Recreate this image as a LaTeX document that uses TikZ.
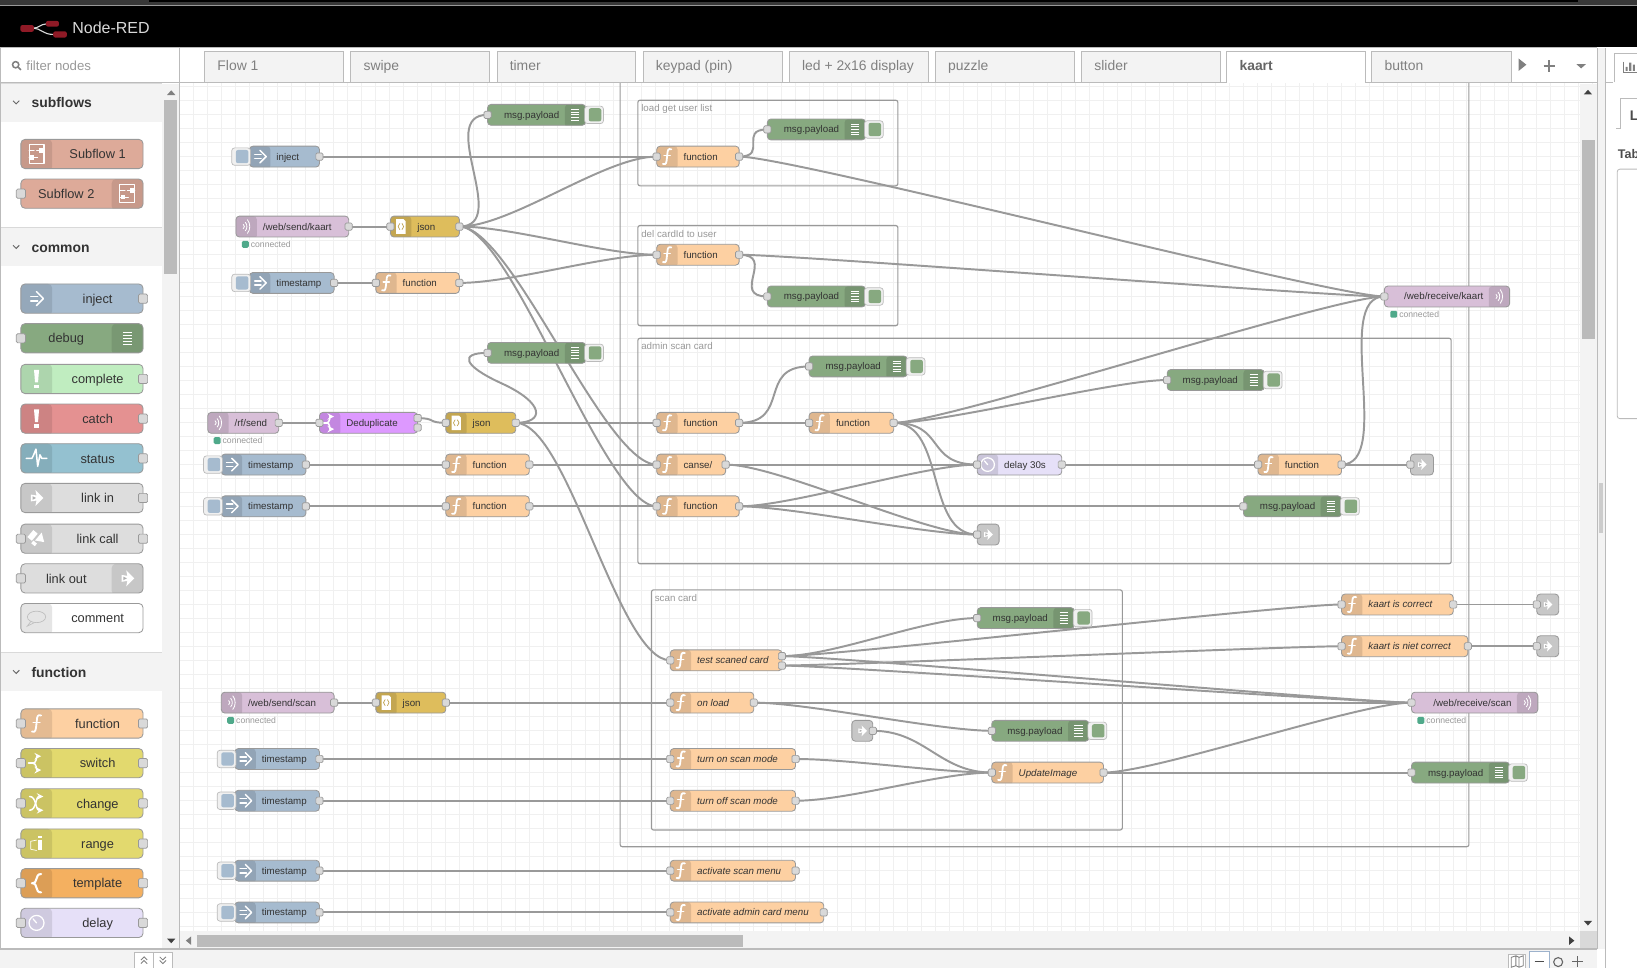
\documentclass[tikz,border=0pt]{standalone}
\usepackage{fontspec}
\setmainfont{Liberation Sans}
\pgfdeclarelayer{gridlayer}
\pgfdeclarelayer{wirelayer}
\pgfsetlayers{gridlayer,wirelayer,main}
\definecolor{injectcol}{HTML}{A6BBCF}
\definecolor{debugcol}{HTML}{87A980}
\definecolor{completecol}{HTML}{C0EDC0}
\definecolor{catchcol}{HTML}{E49191}
\definecolor{statuscol}{HTML}{94C1D0}
\definecolor{linkcol}{HTML}{DDDDDD}
\definecolor{subcol}{HTML}{DDAA99}
\definecolor{fncol}{HTML}{FDD0A2}
\definecolor{switchcol}{HTML}{E2D96E}
\definecolor{templatecol}{HTML}{F4B060}
\definecolor{delaycol}{HTML}{E6E0F8}
\definecolor{jsoncol}{HTML}{DEBD5C}
\definecolor{wscol}{HTML}{D8BFD8}
\definecolor{dedupcol}{HTML}{DD99FF}
\definecolor{edgecol}{HTML}{999999}
\definecolor{portcol}{HTML}{D9D9D9}
\definecolor{wirecol}{HTML}{999999}
\definecolor{gridcol}{HTML}{F0F0F0}
\definecolor{panelcol}{HTML}{F3F3F3}
\definecolor{linecol}{HTML}{BBBBBB}
\definecolor{thumbcol}{HTML}{BBBBBB}
\definecolor{okcol}{HTML}{4FA98A}
\definecolor{selcol}{HTML}{9DB2CC}
\definecolor{logocol}{HTML}{8F1A26}
\def\redunit{0.75pt}
\tikzset{
  x=0.75pt, y=-0.75pt,
  redbody/.style={draw=edgecol, line width=.6pt, rounded corners=2.5pt, minimum height=15pt, inner sep=0pt, outer sep=0pt},
  palbody/.style={redbody, minimum height=21pt, rounded corners=3pt, minimum width=87.75pt},
  redtext/.style={inner sep=0pt, text=black!80, text height=6.4pt, text depth=1.4pt, font=\fontsize{7}{8}\selectfont},
  paltext/.style={inner sep=0pt, text=black!80, text height=8.6pt, text depth=1.8pt, font=\fontsize{9.2}{11}\selectfont},
  port/.style={draw=edgecol, fill=portcol, line width=.5pt, rounded corners=1pt, minimum size=5.2pt, inner sep=0pt},
  palport/.style={port, minimum size=6.6pt},
  btnout/.style={draw=linecol, fill=gridcol, line width=.5pt, rounded corners=2pt, minimum width=13.5pt, minimum height=12.5pt, inner sep=0pt},
  btnin/.style={rounded corners=1.5pt, minimum width=9pt, minimum height=9.5pt, inner sep=0pt},
  wire/.style={draw=wirecol, line width=1.4pt},
  group/.style={draw=edgecol, line width=.8pt, rounded corners=1.5pt},
  grouptext/.style={inner sep=0pt, text=black!40, text height=6.4pt, text depth=1.4pt, font=\fontsize{7}{8}\selectfont},
  statdot/.style={fill=okcol, rounded corners=1pt, minimum size=5pt, inner sep=0pt},
  stattext/.style={inner sep=0pt, text=black!40, text height=4.6pt, text depth=0pt, font=\fontsize{6.2}{7}\selectfont},
  tabbox/.style={draw=linecol, fill=panelcol, line width=.6pt},
  tabtext/.style={inner sep=0pt, text=black!50, text height=9.4pt, text depth=2pt, font=\fontsize{10}{12}\selectfont},
  cattext/.style={inner sep=0pt, text=black!80, text height=9.4pt, text depth=2pt, font=\fontsize{10}{12}\selectfont\bfseries},
  icon/.style={draw=white, line width=1.1pt, line cap=round, line join=round},
  ufill/.style={fill=white, draw=none},
  pics/iconarrow/.style={code={
    \draw[icon] (-5,-2) -- (1,-2) (-5,2) -- (1,2);
    \draw[icon] (0,-6) -- (6,0) -- (0,6);
  }},
  pics/iconbars/.style={code={
    \foreach \yy in {-5,-2.5,0,2.5,5} \draw[icon,line width=.6pt,line cap=butt] (-4,\yy) -- (4,\yy);
  }},
  pics/iconf/.style={code={
    \draw[icon,line width=1.3pt] (4,-7) .. controls (1,-8) and (0.5,-6) .. (0.3,-3) -- (-0.5,4) .. controls (-0.8,7.5) and (-3,8) .. (-4,7);
    \draw[icon,line width=.9pt] (-3,-1) -- (3,-1);
  }},
  pics/iconfork/.style={code={
    \draw[icon] (-7,0) -- (-3,0);
    \draw[icon,-stealth] (-3,0) .. controls (0,0) and (0,-6) .. (4,-6);
    \draw[icon,-stealth] (-3,0) .. controls (0,0) and (0,6) .. (4,6);
  }},
  pics/iconchange/.style={code={
    \draw[icon,-stealth] (-6,-6) .. controls (0,-6) and (-1,6) .. (6,6);
    \draw[icon,-stealth] (-6,6) .. controls (0,6) and (-1,-6) .. (6,-6);
  }},
  pics/iconrange/.style={code={
    \fill[ufill] (1.5,-3) rectangle (5,6);
    \fill[ufill] (1.5,-7) rectangle (5,-5);
    \draw[icon,line width=.5pt] (-5,-2) -- (-5,5) -- (0,6) (-5,-2) -- (0,-3);
  }},
  pics/iconbrace/.style={code={
    \draw[icon,line width=1.5pt] (4,-8) .. controls (-2,-8) and (2,0) .. (-4,0) .. controls (2,0) and (-2,8) .. (4,8);
  }},
  pics/iconclock/.style={code={
    \draw[icon,line width=.9pt] (0,0) circle (6.5);
    \draw[icon,line width=.9pt] (0,0) -- (-3,-3.5);
  }},
  pics/iconjson/.style={code={
    \fill[ufill] (-4.5,-7) -- (2.5,-7) -- (4.5,-5) -- (4.5,7) -- (-4.5,7) -- cycle;
    \draw[draw=jsoncol!85!black,line width=.5pt] (-1,-3) .. controls (-2.6,-3) and (-1.2,0) .. (-2.6,0) .. controls (-1.2,0) and (-2.6,3) .. (-1,3);
    \draw[draw=jsoncol!85!black,line width=.5pt] (1,-3) .. controls (2.6,-3) and (1.2,0) .. (2.6,0) .. controls (1.2,0) and (2.6,3) .. (1,3);
  }},
  pics/iconws/.style={code={
    \draw[icon,line width=.6pt] (-3,-2) .. controls (-1.5,-1) and (-1.5,1) .. (-3,2);
    \draw[icon,line width=.6pt] (-1,-4) .. controls (1,-2) and (1,2) .. (-1,4);
    \draw[icon,line width=.6pt] (1,-6.5) .. controls (4,-3) and (4,3) .. (1,6.5);
  }},
  pics/iconbang/.style={code={
    \fill[ufill] (-2.2,-8) -- (2.2,-8) -- (1.3,3) -- (-1.3,3) -- cycle;
    \fill[ufill] (-1.8,5) rectangle (1.8,8);
  }},
  pics/iconpulse/.style={code={
    \draw[icon] (-9,0) -- (-4,0) -- (-2.5,-3) -- (-0.5,-8) -- (1,7) -- (3,-3) -- (4.5,0) -- (9,0);
  }},
  pics/iconlink/.style={code={
    \fill[ufill] (-1,-7) -- (6,0) -- (-1,7) -- (0,2.2) -- (-5,3) -- (-5,-3) -- (0,-2.2) -- cycle;
    \fill[fill=linkcol!80!black] (-3.5,-1.6) -- (-0.5,0) -- (-3.5,1.6) -- cycle;
  }},
  pics/iconcall/.style={code={
    \fill[ufill,rotate=-40] (-7,-4) rectangle (-2,4);
    \fill[ufill,rotate=-40] (0,-7) -- (7,-2) -- (0,2) -- cycle;
    \fill[ufill,rotate=-40] (-1,3) rectangle (3,6);
  }},
  pics/iconbubble/.style={code={
    \draw[draw=black!25,line width=.5pt] (0,-1) ellipse (8 and 5);
    \draw[draw=black!25,line width=.5pt] (-5,3) -- (-8,7) -- (-2,4);
  }},
  pics/iconsub/.style={code={
    \draw[icon,line width=.8pt] (-6.5,-8) rectangle (6.5,8);
    \draw[icon,line width=.6pt] (-6.5,-3) -- (-2,-3) (0,-3) -- (6.5,-3) (-6.5,3) -- (1,3);
    \fill[ufill] (2,-5) rectangle (5.5,-1);
    \fill[ufill] (-5.5,1) rectangle (-2,5);
  }},
}
% canvas nodes, icon on the left
\newcommand{\rednode}[8][]{%
  \node[redbody,fill=#6,minimum width={(#4-#3)*\redunit},
    path picture={\fill[#6!88!black] (path picture bounding box.north west) rectangle ++(20,22);}]
    (#2) at ({(#3+#4)/2},#5) {};
  \pic at ({#3+10},#5) {#7};
  \node[redtext,anchor=west,#1] (#2-t) at ({#3+25.5},#5) {#8};
}
% canvas nodes, icon on the right
\newcommand{\rednoder}[7]{%
  \node[redbody,fill=#5,minimum width={(#3-#2)*\redunit},
    path picture={\fill[#5!88!black] (path picture bounding box.north east) rectangle ++(-20,22);}]
    (#1) at ({(#2+#3)/2},#4) {};
  \pic at ({#3-10},#4) {#6};
  \node[redtext,anchor=east] (#1-t) at ({#3-25},#4) {#7};
}
\newcommand{\linknode}[4]{%
  \node[redbody,fill=linkcol!90!black,minimum width={(#3-#2)*\redunit}] (#1) at ({(#2+#3)/2},#4) {};
  \pic[scale=.75] at ({(#2+#3)/2},#4) {iconlink};
}
% palette nodes
\newcommand{\palnode}[5]{%
  \node[palbody,fill=#3,
    path picture={\fill[#3!90!black] (path picture bounding box.north west) rectangle ++(30,30);}]
    (#1) at (78.5,#2) {};
  \pic[scale=1.1] at (35,#2) {#4};
  \node[paltext] (#1-t) at (93.5,#2) {#5};
}
\newcommand{\palnoder}[5]{%
  \node[palbody,fill=#3,
    path picture={\fill[#3!90!black] (path picture bounding box.north east) rectangle ++(-30,30);}]
    (#1) at (78.5,#2) {};
  \pic[scale=1.1] at (122,#2) {#4};
  \node[paltext] (#1-t) at (63.5,#2) {#5};
}
\newcommand{\porti}[2][port]{\node[#1] (#2-i) at (#2.west) {};}
\newcommand{\porto}[2][port]{\node[#1] (#2-o) at (#2.east) {};}
% inject button on the left, debug button on the right
\newcommand{\btnl}[2]{%
  \node[btnout,anchor=east] (#1-b) at ([xshift=1pt]#1.west) {};
  \node[btnin,fill=#2,anchor=east] (#1-c) at ([xshift=-.6pt]#1.west) {};
}
\newcommand{\btnr}[2]{%
  \node[btnout,anchor=west] (#1-b) at ([xshift=-1pt]#1.east) {};
  \node[btnin,fill=#2,anchor=west] (#1-c) at ([xshift=2pt]#1.east) {};
}
\newcommand{\connected}[3]{%
  \node[statdot] (#1-d) at (#2,#3) {};
  \node[stattext,anchor=west] (#1-s) at ({#2+5},#3) {connected};
}
\newcommand{\wire}[3][50]{\draw[wire] (#2.center) .. controls +(#1,0) and +(-#1,0) .. (#3.center);}
\begin{document}
\begin{tikzpicture}
  \useasboundingbox (0,0) rectangle (1568,927.2);
  \clip (0,0) rectangle (1568,927.2);
  % canvas grid
  \begin{pgfonlayer}{gridlayer}
    \fill[white] (0,0) rectangle (1568,927.2);
    \foreach \i in {0,...,101} \draw[gridcol,line width=.5pt] ({172.2+13.4*\i},79) -- ({172.2+13.4*\i},892);
    \foreach \i in {0,...,60} \draw[gridcol,line width=.5pt] (172,{83+13.4*\i}) -- (1516,{83+13.4*\i});
  \end{pgfonlayer}

  % flows on the left
  \rednode{inj1}{239}{306}{150}{injectcol}{iconarrow}{inject}
  \btnl{inj1}{injectcol}
  \porto{inj1}
  \rednode{ws1}{226}{334}{217}{wscol}{iconws}{/web/send/kaart}
  \porto{ws1}
  \connected{ws1}{235}{234}
  \rednode{js1}{374}{440}{217}{jsoncol}{iconjson}{json}
  \porti{js1} \porto{js1}
  \rednode{ts1}{239}{320}{271}{injectcol}{iconarrow}{timestamp}
  \btnl{ts1}{injectcol}
  \porto{ts1}
  \rednode{fa1}{360}{440}{271}{fncol}{iconf}{function}
  \porti{fa1} \porto{fa1}
  \rednoder{dbg1}{467}{561}{110}{debugcol}{iconbars}{msg.payload}
  \btnr{dbg1}{debugcol}
  \porti{dbg1}
  \rednoder{dbg2}{467}{561}{338}{debugcol}{iconbars}{msg.payload}
  \btnr{dbg2}{debugcol}
  \porti{dbg2}
  \rednode{ws2}{199}{267}{405}{wscol}{iconws}{/rf/send}
  \porto{ws2}
  \connected{ws2}{208}{422}
  \rednode{dd}{306}{400}{405}{dedupcol}{iconfork}{Deduplicate}
  \porti{dd}
  \node[port] (dd-o) at (400,400.5) {};
  \node[port] (dd-p) at (400,409.5) {};
  \rednode{js2}{427}{494}{405}{jsoncol}{iconjson}{json}
  \porti{js2} \porto{js2}
  \rednode{ts2}{212}{293}{445}{injectcol}{iconarrow}{timestamp}
  \btnl{ts2}{injectcol}
  \porto{ts2}
  \rednode{fb2}{427}{507}{445}{fncol}{iconf}{function}
  \porti{fb2} \porto{fb2}
  \rednode{ts3}{212}{293}{485}{injectcol}{iconarrow}{timestamp}
  \btnl{ts3}{injectcol}
  \porto{ts3}
  \rednode{fb3}{427}{507}{485}{fncol}{iconf}{function}
  \porti{fb3} \porto{fb3}

  % groups
  \begin{pgfonlayer}{wirelayer}
    \draw[group] (594,60) rectangle (1407,811);
    \draw[group] (611,96) rectangle (860,178);
    \draw[group] (611,216) rectangle (860,312);
    \draw[group] (611,324) rectangle (1390,540);
    \draw[group] (624,565) rectangle (1075,795);
  \end{pgfonlayer}
  \node[grouptext,anchor=west] (g1) at (614,103) {load get user list};
  \node[grouptext,anchor=west] (g2) at (614,224) {del cardId to user};
  \node[grouptext,anchor=west] (g3) at (614,331) {admin scan card};
  \node[grouptext,anchor=west] (g4) at (627,572.5) {scan card};

  % load / del
  \rednode{f1}{629}{708}{150}{fncol}{iconf}{function}
  \porti{f1} \porto{f1}
  \rednoder{dbg3}{735}{829}{124}{debugcol}{iconbars}{msg.payload}
  \btnr{dbg3}{debugcol}
  \porti{dbg3}
  \rednode{f2}{629}{708}{244}{fncol}{iconf}{function}
  \porti{f2} \porto{f2}
  \rednoder{dbg4}{735}{829}{284}{debugcol}{iconbars}{msg.payload}
  \btnr{dbg4}{debugcol}
  \porti{dbg4}
  \rednoder{wsr1}{1326}{1446}{284}{wscol}{iconws}{/web/receive/kaart}
  \porti{wsr1}
  \connected{wsr1}{1335}{301}

  % admin scan card
  \rednode{f3}{629}{708}{405}{fncol}{iconf}{function}
  \porti{f3} \porto{f3}
  \rednode{f4}{775}{856}{405}{fncol}{iconf}{function}
  \porti{f4} \porto{f4}
  \rednoder{dbg5}{775}{869}{351}{debugcol}{iconbars}{msg.payload}
  \btnr{dbg5}{debugcol}
  \porti{dbg5}
  \rednoder{dbg6}{1118}{1211}{364}{debugcol}{iconbars}{msg.payload}
  \btnr{dbg6}{debugcol}
  \porti{dbg6}
  \rednode{can}{629}{695}{445}{fncol}{iconf}{canse/}
  \porti{can} \porto{can}
  \rednode{f5}{629}{708}{485}{fncol}{iconf}{function}
  \porti{f5} \porto{f5}
  \rednode{del}{936}{1017}{445}{delaycol}{iconclock}{delay 30s}
  \porti{del} \porto{del}
  \rednode{f6}{1205}{1285}{445}{fncol}{iconf}{function}
  \porti{f6} \porto{f6}
  \linknode{lo1}{1351}{1373}{445}
  \porti{lo1}
  \linknode{lo2}{936}{957}{512}
  \porti{lo2}
  \rednoder{dbg7}{1191}{1285}{485}{debugcol}{iconbars}{msg.payload}
  \btnr{dbg7}{debugcol}
  \porti{dbg7}

  % scan card
  \tikzset{itnode/.style={font=\fontsize{7}{8}\selectfont\itshape}}
  \rednode[itnode]{test}{642}{749}{632.5}{fncol}{iconf}{test scaned card}
  \porti{test}
  \node[port] (test-o) at (749,628.5) {};
  \node[port] (test-p) at (749,637.5) {};
  \rednode[itnode]{onl}{642}{722}{673}{fncol}{iconf}{on load}
  \porti{onl} \porto{onl}
  \rednode[itnode]{ton}{642}{762}{727}{fncol}{iconf}{turn on scan mode}
  \porti{ton} \porto{ton}
  \rednode[itnode]{tof}{642}{762}{767}{fncol}{iconf}{turn off scan mode}
  \porti{tof} \porto{tof}
  \rednoder{dbg8}{936}{1029}{592}{debugcol}{iconbars}{msg.payload}
  \btnr{dbg8}{debugcol}
  \porti{dbg8}
  \rednoder{dbg9}{950}{1043}{700}{debugcol}{iconbars}{msg.payload}
  \btnr{dbg9}{debugcol}
  \porti{dbg9}
  \linknode{li}{816}{836}{700}
  \porto{li}
  \rednode[itnode]{upd}{950}{1057}{740}{fncol}{iconf}{UpdateImage}
  \porti{upd} \porto{upd}
  \rednode[itnode]{kc}{1285}{1392}{579}{fncol}{iconf}{kaart is correct}
  \porti{kc} \porto{kc}
  \rednode[itnode]{kn}{1285}{1406}{619}{fncol}{iconf}{kaart is niet correct}
  \porti{kn} \porto{kn}
  \linknode{lo3}{1472}{1493}{579}
  \porti{lo3}
  \linknode{lo4}{1472}{1493}{619}
  \porti{lo4}
  \rednoder{wsr2}{1352}{1473}{673}{wscol}{iconws}{/web/receive/scan}
  \porti{wsr2}
  \connected{wsr2}{1361}{690}
  \rednoder{dbg10}{1352}{1446}{740}{debugcol}{iconbars}{msg.payload}
  \btnr{dbg10}{debugcol}
  \porti{dbg10}
  \rednode{ws3}{212}{320}{673}{wscol}{iconws}{/web/send/scan}
  \porto{ws3}
  \connected{ws3}{221}{690}
  \rednode{js3}{360}{427}{673}{jsoncol}{iconjson}{json}
  \porti{js3} \porto{js3}
  \rednode{ts4}{225}{306}{727}{injectcol}{iconarrow}{timestamp}
  \btnl{ts4}{injectcol}
  \porto{ts4}
  \rednode{ts5}{225}{306}{767}{injectcol}{iconarrow}{timestamp}
  \btnl{ts5}{injectcol}
  \porto{ts5}
  \rednode{ts6}{225}{306}{834}{injectcol}{iconarrow}{timestamp}
  \btnl{ts6}{injectcol}
  \porto{ts6}
  \rednode{ts7}{225}{306}{874}{injectcol}{iconarrow}{timestamp}
  \btnl{ts7}{injectcol}
  \porto{ts7}
  \rednode[itnode]{am1}{642}{762}{834}{fncol}{iconf}{activate scan menu}
  \porti{am1} \porto{am1}
  \rednode[itnode]{am2}{642}{789}{874}{fncol}{iconf}{activate admin card menu}
  \porti{am2} \porto{am2}

  % wires
  \begin{pgfonlayer}{wirelayer}
    \wire{inj1-o}{f1-i}
    \wire{ws1-o}{js1-i}
    \wire{js1-o}{dbg1-i}
    \wire{js1-o}{f1-i}
    \wire{js1-o}{f2-i}
    \wire{js1-o}{can-i}
    \wire{js1-o}{f5-i}
    \wire{ts1-o}{fa1-i}
    \wire{fa1-o}{f2-i}
    \wire[28]{f1-o}{dbg3-i}
    \wire{f1-o}{wsr1-i}
    \wire[36]{f2-o}{dbg4-i}
    \wire{f2-o}{wsr1-i}
    \wire{ws2-o}{dd-i}
    \wire[18]{dd-o}{js2-i}
    \draw[wire] (js2-o.center) .. controls (522,405) and (522,386) .. (480,367) .. controls (443,350) and (440,338) .. (dbg2-i.center);
    \wire{js2-o}{f3-i}
    \wire{js2-o}{test-i}
    \wire{ts2-o}{fb2-i}
    \wire{fb2-o}{can-i}
    \wire{ts3-o}{fb3-i}
    \wire{fb3-o}{f5-i}
    \wire{f3-o}{f4-i}
    \wire{f3-o}{dbg5-i}
    \wire{f4-o}{dbg6-i}
    \wire{f4-o}{wsr1-i}
    \wire{f4-o}{del-i}
    \wire{f4-o}{lo2-i}
    \wire{can-o}{del-i}
    \wire{can-o}{lo2-i}
    \wire{f5-o}{del-i}
    \wire{f5-o}{lo2-i}
    \wire{f5-o}{dbg7-i}
    \wire{del-o}{f6-i}
    \wire{f6-o}{lo1-i}
    \wire{f6-o}{wsr1-i}
    \wire{test-o}{dbg8-i}
    \wire{test-o}{kc-i}
    \wire{test-o}{wsr2-i}
    \wire{test-p}{kn-i}
    \wire{test-p}{wsr2-i}
    \wire{onl-o}{wsr2-i}
    \wire{onl-o}{dbg9-i}
    \wire{li-o}{upd-i}
    \wire{ton-o}{upd-i}
    \wire{tof-o}{upd-i}
    \wire{upd-o}{wsr2-i}
    \wire{upd-o}{dbg10-i}
    \wire{kc-o}{lo3-i}
    \wire{kn-o}{lo4-i}
    \wire{ws3-o}{js3-i}
    \wire{js3-o}{onl-i}
    \wire{ts4-o}{ton-i}
    \wire{ts5-o}{tof-i}
    \wire{ts6-o}{am1-i}
    \wire{ts7-o}{am2-i}
  \end{pgfonlayer}

  % header
  \fill[black] (0,0) rectangle (1568,45);
  \fill[black!78] (0,0) rectangle (1568,5);
  \draw[black!40,line width=.8pt] (0,5.5) -- (1568,5.5);
  \fill[black] (143,0) rectangle (1511,2);
  \draw[white!85!black,line width=.8pt] (32,27) .. controls (37,27) and (39,23) .. (44,23);
  \draw[white!85!black,line width=.8pt] (32,27) .. controls (39,27) and (41,33) .. (51,33);
  \fill[logocol,rounded corners=1.5pt] (19.5,24) rectangle (32.5,30.5);
  \fill[logocol,rounded corners=1.5pt] (44,20) rectangle (56.5,25.5);
  \fill[logocol,rounded corners=1.5pt] (51,30) rectangle (64,36);
  \node[inner sep=0pt,anchor=west,text=black!15,text height=10.4pt,text depth=2.4pt,font=\fontsize{11.5}{14}\selectfont] (brand) at (69,27) {Node-RED};

  % tab bar
  \fill[white] (172,46) rectangle (1530,79);
  \draw[linecol,line width=.6pt] (172,79) -- (1530,79);
  \foreach \a/\b/\t in {196/329/Flow 1,336/469/swipe,476/609/timer,616/749/keypad (pin),756/889/led + 2x16 display,896/1029/puzzle,1036/1169/slider,1314/1448/button}{
    \draw[tabbox] (\a,79) -- (\a,49) -- (\b,49) -- (\b,79);
    \node[tabtext,anchor=west] (tab\a) at ({\a+12},63) {\t};
  }
  \draw[draw=linecol,fill=white,line width=.6pt] (1175,79.5) -- (1175,49) -- (1308,49) -- (1308,79.5);
  \node[tabtext,anchor=west,text=black!60,font=\fontsize{10}{12}\selectfont\bfseries] (tabkaart) at (1187,63) {kaart};
  \draw[linecol,line width=.6pt] (1448,49) -- (1448,79);
  \fill[black!50] (1454.5,56) -- (1462,62) -- (1454.5,68) -- cycle;
  \draw[black!50,line width=1.4pt] (1478.5,63) -- (1489.5,63) (1484,57.5) -- (1484,68.5);
  \fill[black!50] (1510,61.5) -- (1519,61.5) -- (1514.5,65.5) -- cycle;

  % canvas scrollbars
  \fill[panelcol] (1513,80) rectangle (1530,892);
  \fill[thumbcol] (1515.5,134) rectangle (1527.5,325);
  \fill[black!75] (1517,90.5) -- (1525,90.5) -- (1521,86) -- cycle;
  \fill[black!75] (1517,882) -- (1525,882) -- (1521,886.5) -- cycle;
  \fill[panelcol] (172,892) rectangle (1513,909);
  \fill[thumbcol] (189,896) rectangle (712,907);
  \fill[black!50] (183,897) -- (183,905) -- (178,901) -- cycle;
  \fill[black!75] (1503,897) -- (1503,905) -- (1508,901) -- cycle;
  \fill[black!15] (1513,892) rectangle (1530,909);

  % palette
  \fill[white] (0,45) rectangle (172,909);
  \draw[linecol,line width=.8pt] (.5,45) -- (.5,909);
  \draw[linecol,line width=.8pt] (0,45.5) -- (1568,45.5);
  \draw[linecol,line width=.8pt] (0,79) -- (172,79);
  \draw[linecol,line width=.8pt] (172,45) -- (172,909);
  \draw[black!50,line width=1.1pt] (15,62) circle (3);
  \draw[black!50,line width=1.1pt] (17.5,64.5) -- (20,67);
  \node[inner sep=0pt,anchor=west,text=black!40,text height=8.6pt,text depth=2pt,font=\fontsize{9.5}{11}\selectfont] (filter) at (25,63) {filter nodes};
  \fill[panelcol] (155.5,80) rectangle (171.5,909);
  \fill[thumbcol] (157.5,96) rectangle (169.5,262);
  \fill[black!50] (160,91) -- (168,91) -- (164,86.5) -- cycle;
  \fill[black!75] (160,899) -- (168,899) -- (164,903.5) -- cycle;
  \foreach \y/\t/\n/\h in {79.5/subflows/cata/98,218/common/catb/236.7,625/function/catc/643.7}{
    \fill[panelcol] (1,\y) rectangle (155.5,{\y+37});
    \draw[black!15,line width=.6pt] (1,\y) -- (155.5,\y);
    \draw[black!60,line width=.7pt] (12.5,{\y+17}) -- (15.5,{\y+20}) -- (18.5,{\y+17});
    \node[cattext,anchor=west] (\n) at (30,\h) {\t};
  }
  \palnode{subone}{147.5}{subcol}{iconsub}{Subflow 1}
  \palnoder{subtwo}{185.5}{subcol}{iconsub}{Subflow 2}
  \porti[palport]{subtwo}
  \palnode{pinject}{286}{injectcol}{iconarrow}{inject}
  \porto[palport]{pinject}
  \palnoder{pdebug}{324}{debugcol}{iconbars}{debug}
  \porti[palport]{pdebug}
  \palnode{pcomplete}{363}{completecol}{iconbang}{complete}
  \porto[palport]{pcomplete}
  \palnode{pcatch}{401}{catchcol}{iconbang}{catch}
  \porto[palport]{pcatch}
  \palnode{pstatus}{439}{statuscol}{iconpulse}{status}
  \porto[palport]{pstatus}
  \palnode{plinkin}{477}{linkcol}{iconlink}{link in}
  \porto[palport]{plinkin}
  \palnode{plinkcall}{516}{linkcol}{iconcall}{link call}
  \porti[palport]{plinkcall} \porto[palport]{plinkcall}
  \palnoder{plinkout}{554}{linkcol}{iconlink}{link out}
  \porti[palport]{plinkout}
  \palnode{pcomment}{592}{white}{iconbubble}{comment}
  \palnode{pfunction}{693}{fncol}{iconf}{function}
  \porti[palport]{pfunction} \porto[palport]{pfunction}
  \palnode{pswitch}{731}{switchcol}{iconfork}{switch}
  \porti[palport]{pswitch} \porto[palport]{pswitch}
  \palnode{pchange}{769.5}{switchcol}{iconchange}{change}
  \porti[palport]{pchange} \porto[palport]{pchange}
  \palnode{prange}{808}{switchcol}{iconrange}{range}
  \porti[palport]{prange} \porto[palport]{prange}
  \palnode{ptemplate}{846}{templatecol}{iconbrace}{template}
  \porti[palport]{ptemplate} \porto[palport]{ptemplate}
  \palnode{pdelay}{884}{delaycol}{iconclock}{delay}
  \porti[palport]{pdelay} \porto[palport]{pdelay}

  % bottom bar
  \fill[panelcol] (0,909) rectangle (1537,927.2);
  \draw[linecol,line width=.8pt] (0,909) -- (1568,909);
  \draw[draw=linecol,fill=white,line width=.5pt] (129,927.5) -- (129,912) -- (165,912) -- (165,927.5);
  \draw[linecol,line width=.5pt] (147,912) -- (147,927.5);
  \draw[black!50,line width=.6pt] (135,919.5) -- (138,916.5) -- (141,919.5) (135,923) -- (138,920) -- (141,923);
  \draw[black!50,line width=.6pt] (153,916.5) -- (156,919.5) -- (159,916.5) (153,920) -- (156,923) -- (159,920);
  \draw[draw=linecol,fill=white,line width=.5pt] (1445,927.5) -- (1445,914) -- (1461,914) -- (1461,927.5);
  \draw[black!50,line width=.6pt] (1447.5,917) -- (1452,915.5) -- (1455,917) -- (1459,915.5) -- (1459,925) -- (1455,926.5) -- (1452,925) -- (1447.5,926.5) -- cycle (1452,915.5) -- (1452,925) (1455,917) -- (1455,926.5);
  \draw[draw=selcol,fill=white,line width=.6pt] (1465,927.5) -- (1465,911.5) -- (1484,911.5) -- (1484,927.5);
  \draw[black!70,line width=1.3pt] (1470,921) -- (1479,921);
  \draw[black!60,line width=.8pt] (1492.5,921.5) circle (4.3);
  \draw[black!60,line width=1.2pt] (1506,921) -- (1516,921) (1511,916) -- (1511,926);

  % right sidebar
  \fill[white] (1530,45.5) rectangle (1568,927.2);
  \fill[panelcol] (1530,46) rectangle (1537.5,909);
  \draw[linecol,line width=.6pt] (1530,46) -- (1530,909) (1537.5,46) -- (1537.5,927.2);
  \fill[black!20] (1532,463) rectangle (1535.5,511);
  \draw[linecol,line width=.6pt] (1537,79) -- (1545,79);
  \draw[linecol,line width=.6pt] (1546,79) -- (1546,51) -- (1568,51);
  \draw[black!50,line width=.6pt] (1555,59) -- (1555,69) -- (1568,69);
  \fill[black!50] (1557,64) rectangle (1559,68) (1560.5,60) rectangle (1562.5,68) (1564,62) rectangle (1566,68);
  \draw[linecol,line width=.6pt] (1548,123) -- (1552,123) -- (1552,94) -- (1568,94);
  \node[inner sep=0pt,anchor=west,text=black!70,font=\fontsize{10}{12}\selectfont\bfseries] (tabl) at (1561,111) {L};
  \node[inner sep=0pt,anchor=west,text=black!70,font=\fontsize{9}{11}\selectfont\bfseries] (tabword) at (1549.5,148) {Tab};
  \draw[draw=linecol,line width=.6pt,rounded corners=2pt] (1575,162) -- (1549,162) -- (1549,401) -- (1575,401);
\end{tikzpicture}
\end{document}
